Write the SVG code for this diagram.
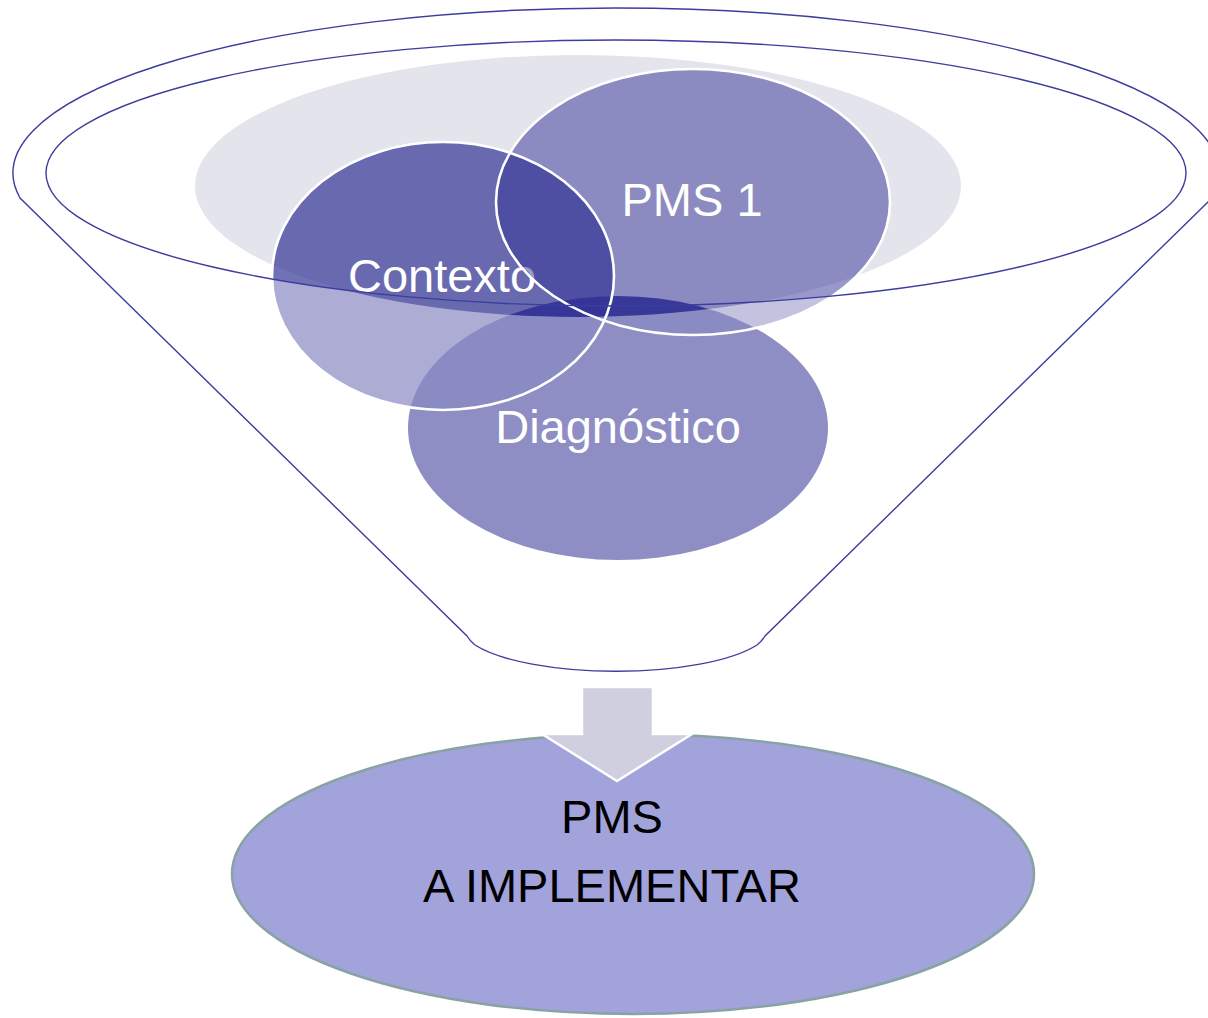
<svg xmlns="http://www.w3.org/2000/svg" width="1208" height="1018" viewBox="0 0 1208 1018">
<defs>
<style>
.outline{fill:none;stroke:#3d3d9e;stroke-width:1.4}
.bubble{fill:#343497}
.ring{fill:none;stroke:#ffffff;stroke-width:2.6}
.lbl{font-family:"Liberation Sans",Arial,sans-serif;font-size:47px;fill:#ffffff;text-anchor:middle}
.lbl-dark{font-family:"Liberation Sans",Arial,sans-serif;font-size:47px;fill:#000000;text-anchor:middle}
</style>
<mask id="bodyMask" maskUnits="userSpaceOnUse" x="0" y="0" width="1208" height="1018">
<rect x="0" y="0" width="1208" height="1018" fill="#fff"/>
<ellipse cx="616" cy="173" rx="570" ry="133" fill="#000"/>
<ellipse cx="578" cy="186" rx="383" ry="131" fill="#000"/>
</mask>
</defs>
<rect x="0" y="0" width="1208" height="1018" fill="#ffffff"/>

<g id="funnel-bowl">
<ellipse cx="578" cy="186" rx="383" ry="131" fill="#e4e4ec"/>
</g>

<g id="node-diagnostico">
<ellipse class="bubble" cx="618" cy="428" rx="210" ry="132" opacity="0.96"/>
<text class="lbl" x="618" y="443">Diagnóstico</text>
</g>

<g id="node-contexto">
<ellipse class="bubble" cx="443" cy="276" rx="171" ry="134" opacity="0.7"/>
<text class="lbl" x="442" y="292">Contexto</text>
</g>

<g id="node-pms1">
<ellipse class="bubble" cx="693" cy="202" rx="197" ry="133" opacity="0.51"/>
<text class="lbl" x="692" y="216">PMS 1</text>
</g>

<rect id="funnel-body-veil" x="0" y="0" width="1208" height="1018" fill="#ffffff" opacity="0.42" mask="url(#bodyMask)"/>

<g id="rings">
<ellipse class="ring" cx="443" cy="276" rx="171" ry="134"/>
<ellipse class="ring" cx="693" cy="202" rx="197" ry="133"/>
</g>

<g id="funnel">
<path class="outline" d="M20,198 A603,165 0 1 1 1212,198 L765,636 Q762,641 757,645 A155,45 0 0 1 475,645 Q470,641 467,636 Z"/>
<ellipse class="outline" cx="616" cy="173" rx="570" ry="133"/>
</g>

<g id="node-result">
<ellipse cx="633" cy="874" rx="401" ry="140" fill="#a3a3dc" stroke="#87a3a3" stroke-width="2.5"/>
<text class="lbl-dark" x="612" y="833">PMS</text>
<text class="lbl-dark" x="612" y="902">A IMPLEMENTAR</text>
</g>

<g id="connectors">
<polygon points="582,687 653,687 653,734 692,734 617,781 542,734 582,734" fill="#cfcfe0" stroke="#ffffff" stroke-width="2.5"/>
</g>
</svg>
